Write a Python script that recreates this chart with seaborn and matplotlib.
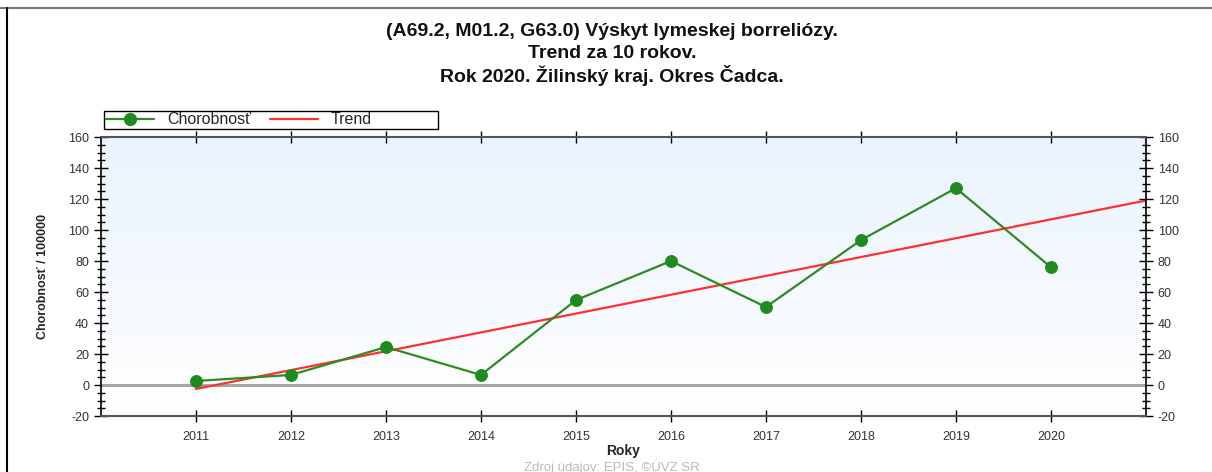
import numpy as np
import pandas as pd
import matplotlib
matplotlib.use('Agg')
import matplotlib.pyplot as plt
import matplotlib.lines as mlines
from matplotlib.patches import Rectangle
from matplotlib.ticker import MultipleLocator
import seaborn as sns

# data
years = [2011, 2012, 2013, 2014, 2015, 2016, 2017, 2018, 2019, 2020]
incidence = [2.6, 6.5, 24.5, 6.5, 54.8, 80.0, 50.3, 93.5, 127.0, 76.0]
trend_years = [2011, 2021]
title_lines = ['(A69.2, M01.2, G63.0) Výskyt lymeskej borreliózy.',
               'Trend za 10 rokov.',
               'Rok 2020. Žilinský kraj. Okres Čadca.']

df = pd.DataFrame({'Rok': years, 'Chorobnost': incidence})

# linear trend fitted on the data
slope, intercept = np.polyfit(df['Rok'], df['Chorobnost'], 1)
trend = pd.DataFrame({'Rok': trend_years})
trend['Trend'] = slope * trend['Rok'] + intercept

sns.set_style('white')
plt.rcParams['font.family'] = ['Liberation Sans', 'DejaVu Sans']
plt.rcParams['axes.unicode_minus'] = False

fig = plt.figure(figsize=(12.12, 4.72), dpi=100)
ax = fig.add_axes([0.0833, 0.1186, 0.8622, 0.5911])

# light blue gradient background
grad = np.linspace(1, 0, 256).reshape(-1, 1)
cmap = matplotlib.colors.LinearSegmentedColormap.from_list('bg', ['#ffffff', '#eaf3fe'])
ax.imshow(grad, extent=[0, 1, 0, 1], transform=ax.transAxes, aspect='auto',
          cmap=cmap, zorder=0)

ax.axhline(0, color='#a0a0a0', lw=2, zorder=1)

sns.lineplot(data=trend, x='Rok', y='Trend', ax=ax, color='#ff3030', lw=1.6, zorder=2)
sns.lineplot(data=df, x='Rok', y='Chorobnost', ax=ax, color='#2e8b22', lw=1.6,
             marker='o', markersize=8.5, markerfacecolor='#1f8a1f',
             markeredgecolor='#1f8a1f', zorder=3)

ax.set_xlim(2010, 2021)
ax.set_ylim(-20, 160)
ax.set_xticks(years)
ax.yaxis.set_major_locator(MultipleLocator(20))
ax.yaxis.set_minor_locator(MultipleLocator(5))
ax.tick_params(axis='x', which='major', bottom=True, top=True, direction='inout',
               length=9, width=1, labelsize=9, color='black', labelcolor='#333333', pad=6)
ax.tick_params(axis='y', which='major', left=True, right=True, labelleft=True,
               labelright=True, direction='inout', length=10, width=1,
               labelsize=9, color='black', labelcolor='#333333')
ax.tick_params(axis='y', which='minor', left=True, right=True, direction='inout',
               length=6, width=1, color='black')

for s in ['top', 'bottom']:
    ax.spines[s].set_color('#555555')
    ax.spines[s].set_linewidth(1.5)
for s in ['left', 'right']:
    ax.spines[s].set_color('black')
    ax.spines[s].set_linewidth(1.2)

ax.set_xlabel('Roky', fontsize=10, fontweight='bold', labelpad=1)
ax.set_ylabel('Chorobnosť / 100000', fontsize=9, fontweight='bold',
              fontstretch='condensed', labelpad=14)

# legend above the plot, with a box wider than its content
fig.add_artist(Rectangle((104 / 1212, 1 - 129 / 472), 334 / 1212, 18 / 472,
                         transform=fig.transFigure, fill=True, facecolor='white',
                         edgecolor='black', lw=1.0))
h1 = mlines.Line2D([], [], color='#2e8b22', lw=1.6, marker='o', markersize=8.5,
                   markerfacecolor='#1f8a1f', markeredgecolor='#1f8a1f')
h2 = mlines.Line2D([], [], color='#ff3030', lw=1.6)
leg = fig.legend([h1, h2], ['Chorobnosť', 'Trend'], ncol=2,
                 bbox_to_anchor=(103 / 1212, 1 - 120 / 472), loc='center left',
                 borderaxespad=0, frameon=False, fontsize=11.5, handlelength=3.0,
                 handletextpad=0.8, columnspacing=1.2, borderpad=0.2)

for i, line in enumerate(title_lines):
    fig.text(0.505, 1 - (31 + 22 * i) / 472, line, ha='center', va='center',
             fontsize=14, fontweight='bold', color='#111111')

fig.text(0.505, 1 - 459 / 472, 'Zdroj údajov: EPIS, ©ÚVZ SR', ha='center', va='top',
         fontsize=9.5, color='#bbbbbb')

# frame lines of the original picture
fig.add_artist(mlines.Line2D([0, 1], [1 - 8 / 472] * 2, color='#777777', lw=1.5,
                             transform=fig.transFigure))
fig.add_artist(mlines.Line2D([7 / 1212] * 2, [0, 1 - 8 / 472], color='black', lw=1.5,
                             transform=fig.transFigure))

fig.savefig('out.png', dpi=100)
